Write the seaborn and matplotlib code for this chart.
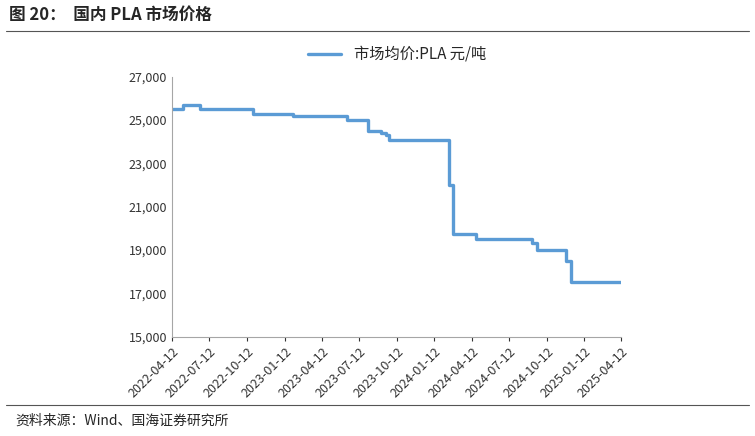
import pandas as pd
import matplotlib.pyplot as plt
import seaborn as sns
import matplotlib.dates as mdates
from matplotlib.lines import Line2D

sns.set_style("white")
plt.rcParams["font.family"] = ["Noto Sans CJK SC", "DejaVu Sans"]

# 价格变动日期与价格（元/吨）
dates = ["2022-04-12", "2022-05-09", "2022-06-20", "2022-10-27", "2023-02-02",
         "2023-06-12", "2023-08-03", "2023-09-03", "2023-09-15", "2023-09-22",
         "2024-02-17", "2024-02-27", "2024-04-23", "2024-09-05", "2024-09-17",
         "2024-11-27", "2024-12-09", "2025-04-12"]
prices = [25500, 25700, 25500, 25300, 25200,
          25000, 24500, 24400, 24300, 24100,
          22000, 19750, 19500, 19300, 19000,
          18500, 17500, 17500]
tick_labels = ["2022-04-12", "2022-07-12", "2022-10-12", "2023-01-12", "2023-04-12",
               "2023-07-12", "2023-10-12", "2024-01-12", "2024-04-12", "2024-07-12",
               "2024-10-12", "2025-01-12", "2025-04-12"]

df = pd.DataFrame({"date": pd.to_datetime(dates), "price": prices})

fig = plt.figure(figsize=(7.55, 4.36), dpi=100)
ax = fig.add_axes([0.228, 0.228, 0.595, 0.596])
sns.lineplot(data=df, x="date", y="price", ax=ax, drawstyle="steps-post",
             color="#5B9BD5", linewidth=2.4)

ax.set_xlim(pd.Timestamp("2022-04-12"), pd.Timestamp("2025-04-12"))
ax.set_ylim(15000, 27000)
ax.set_yticks(range(15000, 27001, 2000))
ax.yaxis.set_major_formatter(plt.FuncFormatter(lambda v, p: f"{int(v):,}"))
ax.set_xticks(pd.to_datetime(tick_labels))
ax.xaxis.set_major_formatter(mdates.DateFormatter("%Y-%m-%d"))
plt.setp(ax.get_xticklabels(), rotation=45, ha="right", rotation_mode="anchor")
ax.tick_params(axis="both", labelsize=9, colors="#333333", length=3, direction="out")
ax.tick_params(axis="y", length=0)
ax.tick_params(axis="x", bottom=True)
ax.set_xlabel("")
ax.set_ylabel("")
for s in ["top", "right"]:
    ax.spines[s].set_visible(False)
for s in ["left", "bottom"]:
    ax.spines[s].set_color("#A6A6A6")

ax.legend(handles=[Line2D([], [], color="#5B9BD5", lw=2.4)],
          labels=["市场均价:PLA 元/吨"], loc="lower center",
          bbox_to_anchor=(0.5, 1.0), frameon=False, fontsize=11, handlelength=2.2)

fig.text(0.012, 0.965, "图 20：  国内 PLA 市场价格", fontsize=12, fontweight="bold", va="center")
fig.add_artist(Line2D([0.008, 0.992], [0.93, 0.93], color="#555555", lw=0.8))
fig.add_artist(Line2D([0.008, 0.992], [0.072, 0.072], color="#555555", lw=0.8))
fig.text(0.02, 0.035, "资料来源：Wind、国海证券研究所", fontsize=10, va="center")

fig.savefig("out.png", dpi=100)
